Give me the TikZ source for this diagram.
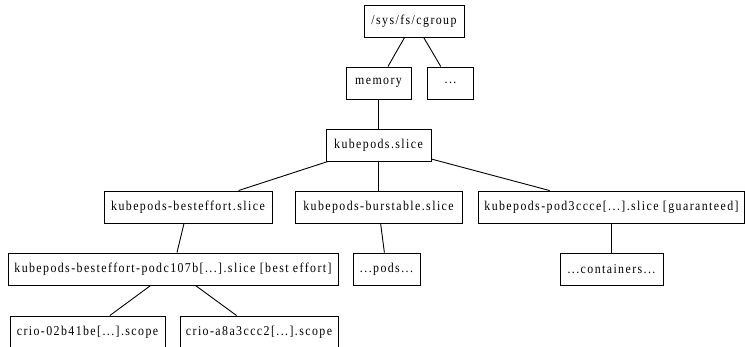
\documentclass[tikz,border=0pt]{standalone}
\usepackage{fontspec}
\setmainfont{Liberation Serif}[LetterSpace=10.5,FakeStretch=0.88]
\begin{document}
\begin{tikzpicture}[x=1pt,y=-1pt,
  box/.style={draw=black,line width=0.9pt,minimum height=32pt,inner sep=0pt,font=\fontsize{13.5}{15}\selectfont},
  edge/.style={draw=black,line width=0.9pt}]
\useasboundingbox (0,0) rectangle (745,346);
\node[box,minimum width=100pt] (sys) at (414,21) {/sys/fs/cgroup};
\node[box,minimum width=65pt] (mem) at (378.5,83) {memory};
\node[box,minimum width=46pt] (oth) at (450.5,83) {...};
\node[box,minimum width=105pt] (kube) at (378.5,145) {kubepods.slice};
\node[box,minimum width=168pt] (be) at (188,207) {kubepods-besteffort.slice};
\node[box,minimum width=167pt] (bu) at (378.5,207) {kubepods-burstable.slice};
\node[box,minimum width=266pt] (gu) at (611.5,207) {kubepods-pod3ccce[...].slice [guaranteed]};
\node[box,minimum width=330pt] (pod) at (173,269) {kubepods-besteffort-podc107b[...].slice [best effort]};
\node[box,minimum width=67pt] (pods) at (386.5,269) {...pods...};
\node[box,minimum width=103pt] (cont) at (611.5,269) {...containers...};
\node[box,minimum width=155pt] (c1) at (87.5,332) {crio-02b41be[...].scope};
\node[box,minimum width=158pt] (c2) at (259,332) {crio-a8a3ccc2[...].scope};
\draw[edge] (sys) -- (mem);
\draw[edge] (sys) -- (oth);
\draw[edge] (mem) -- (kube);
\draw[edge] (kube) -- (be);
\draw[edge] (kube) -- (bu);
\draw[edge] (kube) -- (gu);
\draw[edge] (be) -- (pod);
\draw[edge] (bu) -- (pods);
\draw[edge] (gu) -- (cont);
\draw[edge] (pod) -- (c1);
\draw[edge] (pod) -- (c2);
\end{tikzpicture}
\end{document}
